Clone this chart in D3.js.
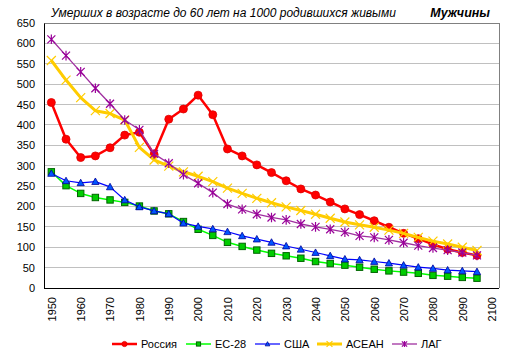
<!DOCTYPE html>
<html><head><meta charset="utf-8">
<script src="https://cdn.jsdelivr.net/npm/d3@7"></script>
<style>body{margin:0;background:#fff;}svg{display:block;font-family:"Liberation Sans",Arial,sans-serif;}</style>
</head><body>
<svg id="c" width="513" height="359"></svg>
<script>
const years = ["1950","1955","1960","1965","1970","1975","1980","1985","1990","1995","2000","2005","2010","2015","2020","2025","2030","2035","2040","2045","2050","2055","2060","2065","2070","2075","2080","2085","2090","2095","2100"];
const yTicks = [0,50,100,150,200,250,300,350,400,450,500,550,600,650];
const xLabels = ["1950","1960","1970","1980","1990","2000","2010","2020","2030","2040","2050","2060","2070","2080","2090","2100"];
const russia = [455,365,320,324,344,375,382,328,414,439,473,425,341,324,302,283,263,243,228,211,194,180,165,149,134,121,107,95,87,80];
const eu28 = [285,251,232,222,216,210,201,189,182,163,144,129,112,102,93,85,79,73,65,60,56,51,46,42,39,36,31,29,26,24];
const usa = [281,263,258,261,248,216,199,189,182,159,151,145,138,128,120,112,103,95,87,79,71,69,65,61,56,51,48,44,42,40];
const asean = [558,510,467,435,428,412,345,314,299,285,274,261,245,232,220,209,199,190,181,171,162,155,149,142,134,124,115,108,100,92];
const lag = [610,570,530,490,452,412,388,329,306,278,257,234,206,193,181,173,167,157,150,144,137,128,124,118,111,104,98,93,87,80];
const seriesNames = ["Россия","ЕС-28","США","АСЕАН","ЛАГ"];

const svg = d3.select("#c");
const L=44, R=499, T=23, B=288;
const x = d3.scalePoint().domain(years).range([L,R]).padding(0.5);
const y = d3.scaleLinear().domain([0,650]).range([B,T]);

// grid
svg.append("g").selectAll("line").data(yTicks.filter(d=>d>0)).join("line")
  .attr("x1",L).attr("x2",R).attr("y1",d=>y(d)).attr("y2",d=>y(d))
  .attr("stroke",d=>d===650?"#808080":"#c0c0c0").attr("stroke-width",1).attr("shape-rendering","crispEdges");
svg.append("line").attr("x1",R).attr("x2",R).attr("y1",T).attr("y2",B).attr("stroke","#808080").attr("shape-rendering","crispEdges");

// axes
const yAxis = svg.append("g").attr("transform",`translate(${L},0)`)
  .call(d3.axisLeft(y).tickValues(yTicks).tickSize(0).tickPadding(9));
yAxis.select(".domain").attr("stroke","#000");
yAxis.selectAll("text").attr("font-size",11).attr("fill","#000").attr("font-family","Liberation Sans, Arial");
const xAxis = svg.append("g").attr("transform",`translate(0,${B})`)
  .call(d3.axisBottom(x).tickValues(xLabels).tickSize(0));
xAxis.select(".domain").attr("stroke","#000").attr("d",`M${L},0.5H${R}`);
xAxis.selectAll("text").attr("font-size",11).attr("fill","#000").attr("font-family","Liberation Sans, Arial")
  .attr("transform","rotate(-90)").attr("text-anchor","end").attr("x",-9).attr("y",0).attr("dy","0.35em");

// markers
function marker(g, type, cx, cy, s) {
  if (type==="circle") {
    g.append("circle").attr("cx",cx).attr("cy",cy).attr("r",4*s).attr("fill","#ff0000").attr("stroke","#dd0000").attr("stroke-width",0.8);
  } else if (type==="square") {
    const h=3.2*s;
    g.append("rect").attr("x",cx-h).attr("y",cy-h).attr("width",2*h).attr("height",2*h).attr("fill","#00cc00").attr("stroke","#006600").attr("stroke-width",1);
  } else if (type==="tri") {
    const h=3.6*s;
    g.append("path").attr("d",`M${cx},${cy-h}L${cx+h},${cy+h*0.8}L${cx-h},${cy+h*0.8}Z`).attr("fill","#0055ff").attr("stroke","#000099").attr("stroke-width",0.8);
  } else if (type==="x") {
    const h=4.5*s;
    g.append("path").attr("d",`M${cx-h},${cy-h}L${cx+h},${cy+h}M${cx-h},${cy+h}L${cx+h},${cy-h}`).attr("stroke","#ffcc00").attr("stroke-width",1.2);
  } else if (type==="star") {
    const h=4*s;
    g.append("path").attr("d",`M${cx-h},${cy-h}L${cx+h},${cy+h}M${cx-h},${cy+h}L${cx+h},${cy-h}M${cx},${cy-h*1.2}L${cx},${cy+h*1.2}`).attr("stroke","#990099").attr("stroke-width",1.2);
  }
}

const series = [
  {name:seriesNames[0], data:russia, color:"#ff0000", w:2.5, m:"circle"},
  {name:seriesNames[1], data:eu28, color:"#00ff00", w:1.5, m:"square"},
  {name:seriesNames[2], data:usa, color:"#0000ff", w:1.2, m:"tri"},
  {name:seriesNames[3], data:asean, color:"#ffcc00", w:3, m:"x"},
  {name:seriesNames[4], data:lag, color:"#a030a0", w:1.3, m:"star"}
];
const line = d3.line().x((d,i)=>x(years[i])).y(d=>y(d));
series.forEach(s=>{
  const g = svg.append("g");
  g.append("path").datum(s.data).attr("d",line).attr("fill","none").attr("stroke",s.color).attr("stroke-width",s.w).attr("stroke-linejoin","round");
  s.data.forEach((v,i)=>marker(g,s.m,x(years[i]),y(v),1));
});

// title
svg.append("text").attr("x",51).attr("y",17).attr("font-size",12).attr("font-style","italic").text("Умерших в возрасте до 60 лет на 1000 родившихся живыми");
svg.append("text").attr("x",490).attr("y",17).attr("text-anchor","end").attr("font-size",12.5).attr("font-style","italic").attr("font-weight","bold").text("Мужчины");

// legend
const legX = [112,186,255,317,392];
const lg = svg.append("g");
series.forEach((s,i)=>{
  const x0=legX[i], ly=344;
  lg.append("line").attr("x1",x0).attr("x2",x0+25).attr("y1",ly).attr("y2",ly).attr("stroke",s.color).attr("stroke-width",s.w);
  marker(lg,s.m,x0+12.5,ly,0.65);
  lg.append("text").attr("x",x0+29).attr("y",ly).attr("dy","0.35em").attr("font-size",11).text(s.name);
});
</script>
</body></html>
